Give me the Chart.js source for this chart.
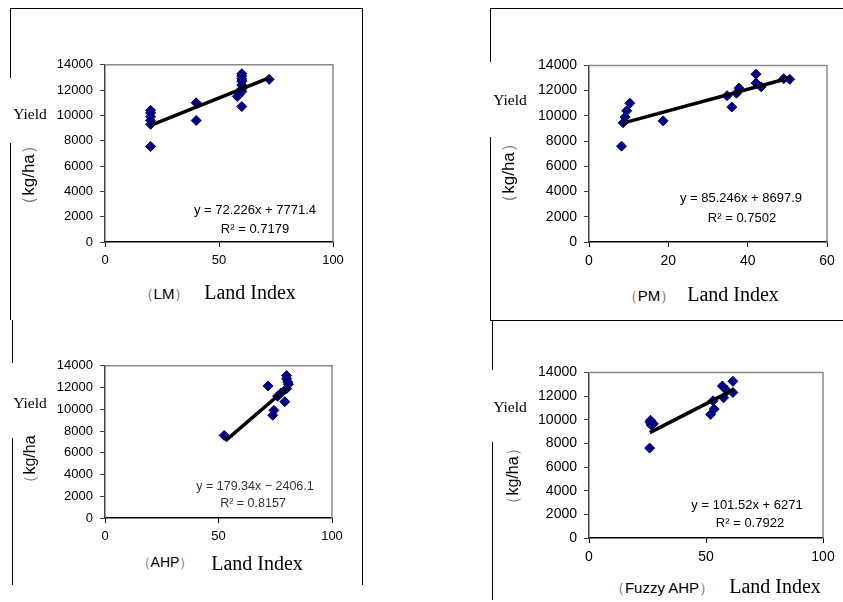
<!DOCTYPE html>
<html>
<head>
<meta charset="utf-8">
<title>Yield vs Land Index</title>
<script src="https://cdn.jsdelivr.net/npm/chart.js"></script>
<style>
  body { margin:0; background:#fff; width:843px; height:602px; position:relative; overflow:hidden; font-family:"Liberation Sans", Arial, sans-serif; }
  canvas { position:absolute; }
  .t { position:absolute; white-space:nowrap; transform:translate(-50%,-50%); color:#000; line-height:1; }
  .serif { font-family:"Liberation Serif","Times New Roman",serif; }
  .rot { transform:translate(-50%,-50%) rotate(-90deg); }
  .ln { position:absolute; background:#000; }
  .par { color:#777; }
</style>
</head>
<body>

<!-- frame lines -->
<div class="ln" style="left:10px;top:8px;width:352px;height:1px"></div>
<div class="ln" style="left:10px;top:8px;width:1px;height:70px"></div>
<div class="ln" style="left:10px;top:143px;width:1px;height:177px"></div>
<div class="ln" style="left:362px;top:8px;width:1px;height:577px"></div>
<div class="ln" style="left:12px;top:320px;width:1px;height:43px"></div>
<div class="ln" style="left:12px;top:438px;width:1px;height:147px"></div>
<div class="ln" style="left:490px;top:8px;width:353px;height:1px"></div>
<div class="ln" style="left:490px;top:8px;width:1px;height:54px"></div>
<div class="ln" style="left:490px;top:137px;width:1px;height:183px"></div>
<div class="ln" style="left:490px;top:320px;width:353px;height:1px"></div>
<div class="ln" style="left:492px;top:320px;width:1px;height:50px"></div>
<div class="ln" style="left:492px;top:442px;width:1px;height:158px"></div>

<canvas id="cLM"></canvas>
<canvas id="cPM"></canvas>
<canvas id="cAHP"></canvas>
<canvas id="cFZ"></canvas>

<!-- LM -->
<div class="t serif" style="left:30px;top:114px;font-size:15.5px">Yield</div>
<div class="t rot" style="left:28px;top:175px;font-size:17px"><span class="par">（</span>kg/ha<span class="par">）</span></div>
<div class="t" style="left:255px;top:209px;font-size:13px">y = 72.226x + 7771.4</div>
<div class="t" style="left:255px;top:228px;font-size:13px">R² = 0.7179</div>
<div class="t" style="left:164px;top:293px;font-size:15px"><span class="par">（</span>LM<span class="par">）</span></div>
<div class="t serif" style="left:250px;top:292px;font-size:20px">Land Index</div>

<!-- PM -->
<div class="t serif" style="left:510px;top:100px;font-size:15.5px">Yield</div>
<div class="t rot" style="left:508px;top:173px;font-size:17px"><span class="par">（</span>kg/ha<span class="par">）</span></div>
<div class="t" style="left:741px;top:197px;font-size:13px">y = 85.246x + 8697.9</div>
<div class="t" style="left:742px;top:217px;font-size:13px">R² = 0.7502</div>
<div class="t" style="left:649px;top:295px;font-size:15px"><span class="par">（</span>PM<span class="par">）</span></div>
<div class="t serif" style="left:733px;top:294px;font-size:20px">Land Index</div>

<!-- AHP -->
<div class="t serif" style="left:30px;top:403px;font-size:15.5px">Yield</div>
<div class="t rot" style="left:30px;top:463px;font-size:16px"><span class="par">（</span>kg/ha</div>
<div class="t" style="left:255px;top:486px;font-size:12.5px;color:#333">y = 179.34x − 2406.1</div>
<div class="t" style="left:253px;top:503px;font-size:12.5px;color:#333">R² = 0.8157</div>
<div class="t" style="left:165px;top:562px;font-size:14px"><span class="par">（</span>AHP<span class="par">）</span></div>
<div class="t serif" style="left:257px;top:563px;font-size:20px">Land Index</div>

<!-- Fuzzy AHP -->
<div class="t serif" style="left:510px;top:407px;font-size:15.5px">Yield</div>
<div class="t rot" style="left:513px;top:476px;font-size:16px"><span class="par">（</span>kg/ha<span class="par">）</span></div>
<div class="t" style="left:747px;top:504px;font-size:13px">y = 101.52x + 6271</div>
<div class="t" style="left:750px;top:522px;font-size:13px">R² = 0.7922</div>
<div class="t" style="left:662px;top:587px;font-size:15px"><span class="par">（</span>Fuzzy AHP<span class="par">）</span></div>
<div class="t serif" style="left:775px;top:586px;font-size:20px">Land Index</div>

<script>
// LM land index vs yield (kg/ha)
var lmX = [20, 20, 20, 20, 20, 20, 40, 40, 58, 59, 60, 60, 60, 60, 60, 60, 60, 60, 72];
var lmY = [7550, 9300, 9600, 9900, 10200, 10400, 11000, 9600, 11500, 11700, 10700, 11900, 12100, 12400, 12700, 12900, 13100, 13300, 12850];
var lmTrendX = [20, 72];
var lmTrendY = [9216, 12972];

// PM
var pmX = [8.2, 8.6, 9.1, 9.5, 10.3, 18.7, 34.8, 36.0, 37.2, 37.8, 42.1, 42.1, 43.4, 49.1, 50.6];
var pmY = [7600, 9450, 9900, 10400, 11000, 9600, 11600, 10700, 11800, 12200, 13300, 12600, 12300, 12950, 12900];
var pmTrendX = [8.3, 50.5];
var pmTrendY = [9405, 13003];

// AHP
var ahpX = [52.5, 71.8, 73.9, 74.4, 76.0, 77.5, 79.2, 80, 80, 80.5, 80.8, 80];
var ahpY = [7600, 12150, 9450, 9900, 11200, 11500, 10700, 13100, 12800, 12500, 12300, 11900];
var ahpTrendX = [53, 81];
var ahpTrendY = [7099, 12120];

// Fuzzy AHP
var fzX = [25.9, 26.0, 26.6, 27.5, 26.3, 52.0, 53.5, 53.0, 57.0, 57.5, 59.0, 61.5, 61.5];
var fzY = [7600, 9800, 9550, 9650, 9950, 10450, 10900, 11600, 12850, 11850, 12450, 13250, 12300];
var fzTrendX = [26, 62];
var fzTrendY = [8910, 12565];

var yTicksMax = 14000, yStep = 2000;

function pts(xs, ys) {
    var out = [];
    for (var i = 0; i < xs.length; i++) out.push({x: xs[i], y: ys[i]});
    return out;
}

// top and right edges of the plot area in grey
var plotFrame = {
    id: 'plotFrame',
    beforeDatasetsDraw: function(chart) {
        var a = chart.chartArea, ctx = chart.ctx;
        ctx.save();
        ctx.strokeStyle = '#8a8a8a';
        ctx.lineWidth = 1.5;
        ctx.beginPath();
        ctx.moveTo(a.left, a.top);
        ctx.lineTo(a.right, a.top);
        ctx.lineTo(a.right, a.bottom);
        ctx.stroke();
        ctx.restore();
    }
};

function makePanel(id, box, xs, ys, tx, ty, xMax, xStep, fontSize) {
    var canvas = document.getElementById(id);
    var padL = 62, padT = 12, padR = 18, padB = 32;
    canvas.width = box.r - box.l + padL + padR;
    canvas.height = box.b - box.t + padT + padB;
    canvas.style.left = (box.l - padL) + 'px';
    canvas.style.top = (box.t - padT) + 'px';

    new Chart(canvas, {
        type: 'scatter',
        data: {
            datasets: [{
                type: 'line',
                data: pts(tx, ty),
                borderColor: '#000',
                borderWidth: 3.5,
                pointRadius: 0,
                fill: false
            }, {
                data: pts(xs, ys),
                pointStyle: 'rectRot',
                pointRadius: 5,
                backgroundColor: '#000080',
                borderColor: '#000080',
                borderWidth: 1
            }]
        },
        options: {
            responsive: false,
            animation: false,
            devicePixelRatio: 1,
            layout: { padding: { top: padT, right: padR, left: 0, bottom: 0 } },
            plugins: { legend: { display: false }, tooltip: { enabled: false } },
            scales: {
                x: {
                    type: 'linear', min: 0, max: xMax,
                    afterFit: function(s) { s.height = padB; },
                    ticks: { stepSize: xStep, padding: 6, color: '#000',
                             font: { family: 'Liberation Sans', size: fontSize },
                             callback: function(v) { return String(v); } },
                    grid: { drawOnChartArea: false, drawTicks: true, tickLength: 5, color: '#000' },
                    border: { display: true, color: '#000', width: 1.5 }
                },
                y: {
                    type: 'linear', min: 0, max: yTicksMax,
                    afterFit: function(s) { s.width = padL; },
                    ticks: { stepSize: yStep, padding: 7, color: '#000',
                             font: { family: 'Liberation Sans', size: fontSize },
                             callback: function(v) { return String(v); } },
                    grid: { drawOnChartArea: false, drawTicks: true, tickLength: 5, color: '#444' },
                    border: { display: true, color: '#444', width: 1.5 }
                }
            }
        },
        plugins: [plotFrame]
    });
}

makePanel('cLM', {l: 105, r: 333, t: 62, b: 242}, lmX, lmY, lmTrendX, lmTrendY, 100, 50, 13);
makePanel('cPM', {l: 589, r: 827, t: 62, b: 242}, pmX, pmY, pmTrendX, pmTrendY, 60, 20, 14);
makePanel('cAHP', {l: 105, r: 332, t: 363, b: 518}, ahpX, ahpY, ahpTrendX, ahpTrendY, 100, 50, 13);
makePanel('cFZ', {l: 589, r: 823, t: 369, b: 538}, fzX, fzY, fzTrendX, fzTrendY, 100, 50, 14);
</script>
</body>
</html>
